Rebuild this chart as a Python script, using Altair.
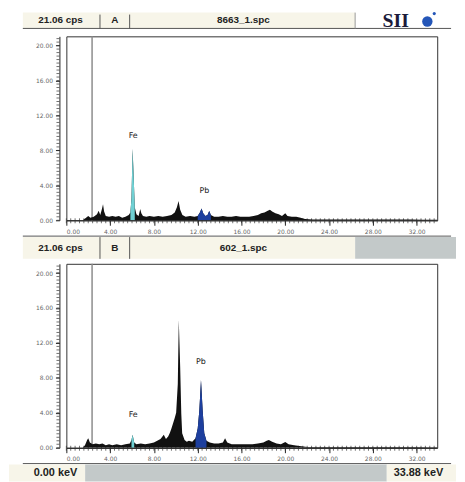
import altair as alt
import pandas as pd

E_MAX = 33.88
CPS_MAX = 21.06
CURSOR_KEV = 2.35

# Panel A : 8663_1.spc
A_E = [0.0, 1.5, 1.8, 2.0, 2.2, 2.5, 2.8, 2.95, 3.1, 3.25,
       3.35, 3.45, 3.6, 3.9, 4.2, 4.5, 4.8, 5.1, 5.4, 5.7,
       5.85, 5.95, 6.05, 6.15, 6.25, 6.4, 6.6, 6.75, 6.85, 7.0,
       7.3, 7.6, 8.0, 8.4, 8.8, 9.2, 9.6, 9.9, 10.1, 10.25,
       10.4, 10.6, 10.9, 11.3, 11.7, 12.0, 12.2, 12.35, 12.5, 12.7,
       12.9, 13.05, 13.2, 13.5, 13.9, 14.3, 14.7, 15.1, 15.5, 15.9,
       16.3, 16.7, 17.1, 17.5, 17.8, 18.1, 18.4, 18.6, 18.8, 19.1,
       19.4, 19.7, 20.0, 20.2, 20.6, 21.0, 21.4, 21.8, 22.5, 23.5,
       24.5, 25.5, 26.5, 27.5, 28.5, 29.5, 30.5, 31.5, 32.5, 33.88]
A_CPS = [0.0, 0.0, 0.3, 0.5, 0.3, 0.4, 0.7, 1.1, 0.6, 1.3,
         1.85, 1.0, 0.5, 0.4, 0.5, 0.4, 0.5, 0.3, 0.4, 0.6,
         0.9, 2.5, 8.2, 5.0, 1.5, 0.7, 0.5, 1.3, 0.8, 0.5,
         0.4, 0.5, 0.4, 0.5, 0.4, 0.5, 0.6, 0.9, 1.5, 2.2,
         1.2, 0.6, 0.4, 0.5, 0.4, 0.5, 0.9, 1.35, 0.8, 0.5,
         0.6, 1.05, 0.6, 0.4, 0.4, 0.5, 0.4, 0.4, 0.5, 0.4,
         0.4, 0.4, 0.5, 0.6, 0.8, 0.9, 1.1, 1.2, 1.0, 0.8,
         0.7, 0.5, 0.8, 0.5, 0.4, 0.4, 0.3, 0.15, 0.1, 0.1,
         0.08, 0.1, 0.08, 0.1, 0.08, 0.1, 0.08, 0.08, 0.05, 0.05]
A_FE_ROI = [5.85, 6.25]
A_PB_ROI = [12.0, 13.2]
A_LABELS = {"E": [6.1, 12.6], "cps": [9.7, 3.3], "t": ["Fe", "Pb"]}

# Panel B : 602_1.spc
B_E = [0.0, 1.5, 1.7, 1.9, 2.0, 2.15, 2.4, 2.7, 3.0, 3.3,
       3.6, 3.9, 4.2, 4.6, 5.0, 5.4, 5.8, 5.95, 6.05, 6.2,
       6.4, 6.8, 7.2, 7.6, 8.0, 8.3, 8.6, 8.9, 9.1, 9.3,
       9.45, 9.6, 9.75, 9.9, 10.03, 10.18, 10.27, 10.4, 10.5, 10.58,
       10.8, 11.0, 11.2, 11.5, 11.8, 12.0, 12.15, 12.3, 12.45, 12.6,
       12.8, 13.1, 13.5, 13.9, 14.3, 14.5, 14.7, 15.1, 15.5, 16.0,
       16.5, 17.0, 17.5, 18.0, 18.3, 18.5, 18.8, 19.2, 19.6, 20.0,
       20.3, 20.8, 21.3, 22.0, 23.0, 24.0, 25.0, 26.0, 27.0, 28.0,
       29.0, 30.0, 31.0, 32.0, 33.0, 33.88]
B_CPS = [0.0, 0.0, 0.3, 0.9, 1.1, 0.6, 0.4, 0.5, 0.4, 0.5,
         0.3, 0.4, 0.3, 0.4, 0.3, 0.4, 0.5, 0.9, 1.5, 0.6,
         0.4, 0.5, 0.4, 0.5, 0.6, 0.8, 1.0, 1.5, 1.0, 1.3,
         1.7, 2.2, 2.8, 3.4, 4.0, 7.3, 14.65, 9.2, 3.9, 1.65,
         0.9, 0.7, 0.8, 0.7, 1.1, 2.2, 4.3, 7.75, 4.3, 1.65,
         0.8, 0.6, 0.5, 0.5, 0.6, 1.1, 0.6, 0.4, 0.4, 0.4,
         0.4, 0.4, 0.5, 0.6, 0.8, 0.9, 0.7, 0.5, 0.4, 0.65,
         0.4, 0.3, 0.2, 0.1, 0.08, 0.1, 0.08, 0.1, 0.08, 0.1,
         0.08, 0.08, 0.1, 0.08, 0.05, 0.05]
B_FE_ROI = [5.95, 6.2]
B_PB_ROI = [11.8, 12.8]
B_LABELS = {"E": [6.1, 12.3], "cps": [3.7, 9.8], "t": ["Fe", "Pb"]}

X_TICKS = [0, 4, 8, 12, 16, 20, 24, 28, 32]
Y_TICKS = [0, 4, 8, 12, 16, 20]
X_MINOR = [round(0.4 * i, 2) for i in range(85)]
Y_MINOR = [round(0.4 * i, 2) for i in range(53)]

HEADER_A = ["21.06 cps", "A", "8663_1.spc"]
HEADER_B = ["21.06 cps", "B", "602_1.spc"]
FOOTER = ["0.00 keV", "33.88 keV"]

CREAM = "#f7f5e9"
GRAYBAR = "#c3c9c9"
CYAN = "#6fd0d3"
BLUE = "#1d3f9e"
W, H = 375, 186
OX = 66
ONE = alt.Data(values=[{"k": 0}])
HFONT = "Liberation Sans"

xscale = alt.Scale(domain=[0, E_MAX], nice=False, zero=False)
yscale = alt.Scale(domain=[0, CPS_MAX], nice=False)
xaxis = alt.Axis(values=X_TICKS, format=".2f", title=None, grid=False,
                 labelFontSize=6, labelColor="#666", labelFont="DejaVu Sans",
                 tickSize=5, tickColor="#222", domainColor="#222", labelPadding=3)
yaxis = alt.Axis(values=Y_TICKS, format=".2f", title=None, grid=False, offset=7,
                 labelFontSize=6, labelColor="#666", labelFont="DejaVu Sans",
                 tickSize=4, tickColor="#222", domainColor="#222", labelPadding=3)
X = alt.X("E:Q", scale=xscale, axis=xaxis)
Y = alt.Y("cps:Q", scale=yscale, axis=yaxis)


def rect(x1, x2, y1, y2, fill, oy):
    return alt.Chart(ONE).mark_rect(fill=fill).encode(
        x=alt.value(x1 - OX), x2=alt.value(x2 - OX),
        y=alt.value(y1 - oy), y2=alt.value(y2 - oy))


def hline(x1, x2, y, oy, color="#555", w=1):
    return alt.Chart(ONE).mark_rule(color=color, strokeWidth=w).encode(
        x=alt.value(x1 - OX), x2=alt.value(x2 - OX),
        y=alt.value(y - oy))


def vline(x, y1, y2, oy, color="#555", w=1):
    return alt.Chart(ONE).mark_rule(color=color, strokeWidth=w).encode(
        x=alt.value(x - OX), y=alt.value(y1 - oy), y2=alt.value(y2 - oy))


def text(s, x, y, oy, size=10, font=HFONT, weight="bold", color="#222"):
    return alt.Chart(ONE).mark_text(fontSize=size, font=font, fontWeight=weight,
                                    color=color, align="center", baseline="middle").encode(
        x=alt.value(x - OX), y=alt.value(y - oy), text=alt.value(s))


def spectrum_layers(E, C, fe_roi, pb_roi, labels):
    df = pd.DataFrame({"E": E, "cps": C})
    fe = df[(df.E >= fe_roi[0]) & (df.E <= fe_roi[1])]
    pb = df[(df.E >= pb_roi[0]) & (df.E <= pb_roi[1])]
    layers = [
        alt.Chart(pd.DataFrame({"E": X_MINOR})).mark_rule(color="#333", strokeWidth=0.7).encode(
            x=X, y=alt.value(H - 2), y2=alt.value(H + 3)),
        alt.Chart(pd.DataFrame({"cps": Y_MINOR})).mark_rule(color="#333", strokeWidth=0.7).encode(
            y=Y, x=alt.value(-10), x2=alt.value(-7)),
        alt.Chart(pd.DataFrame({"E": [CURSOR_KEV]})).mark_rule(color="#8c8c8c", strokeWidth=1.5).encode(x=X),
        alt.Chart(df).mark_area(color="#111", clip=True).encode(x=X, y=Y),
        alt.Chart(fe).mark_area(color=CYAN, clip=True).encode(x=X, y=Y),
        alt.Chart(pb).mark_area(color=BLUE, clip=True).encode(x=X, y=Y),
        alt.Chart(pd.DataFrame(labels)).mark_text(fontSize=8, font="DejaVu Sans", color="#222").encode(
            x=X, y=Y, text="t:N"),
    ]
    return layers


# ---- Panel A
oyA = 32
decoA = [
    rect(22, 358, 8, 24, CREAM, oyA),
    hline(22, 455, 24, oyA),
    vline(100, 10, 24, oyA), vline(130, 10, 24, oyA), vline(358, 8, 24, oyA, color="#999"),
    text(HEADER_A[0], 60, 16, oyA),
    text(HEADER_A[1], 115, 16, oyA),
    text(HEADER_A[2], 245, 16, oyA),
    text("SII", 399, 17, oyA, size=20, font="Liberation Serif", color="#1b1b3a"),
    alt.Chart(ONE).mark_point(filled=True, size=110, color="#2456b8", opacity=1).encode(
        x=alt.value(431 - OX), y=alt.value(17 - oyA)),
    alt.Chart(ONE).mark_point(filled=True, size=10, color="#2456b8", opacity=1).encode(
        x=alt.value(438 - OX), y=alt.value(9 - oyA)),
]
panelA = alt.layer(*decoA, *spectrum_layers(A_E, A_CPS, A_FE_ROI, A_PB_ROI, A_LABELS)).properties(
    width=W, height=H)

# ---- Panel B
oyB = 262
decoB = [
    hline(22, 455, 234, oyB),
    rect(22, 358, 235, 257, CREAM, oyB),
    rect(358, 460, 235, 257, GRAYBAR, oyB),
    vline(100, 235, 257, oyB), vline(130, 235, 257, oyB),
    text(HEADER_B[0], 60, 246, oyB),
    text(HEADER_B[1], 115, 246, oyB),
    text(HEADER_B[2], 245, 246, oyB),
    # footer
    hline(22, 455, 464, oyB),
    rect(8, 85, 465, 482, CREAM, oyB),
    rect(85, 390, 465, 482, GRAYBAR, oyB),
    rect(390, 460, 465, 482, CREAM, oyB),
    text(FOOTER[0], 55, 474, oyB, size=11),
    text(FOOTER[1], 422, 474, oyB, size=11),
]
panelB = alt.layer(*decoB, *spectrum_layers(B_E, B_CPS, B_FE_ROI, B_PB_ROI, B_LABELS)).properties(
    width=W, height=H)

chart = alt.vconcat(panelA, panelB, spacing=44, bounds="flush").properties(
    padding=0, background="white"
).configure_view(stroke="#333", strokeWidth=1)

chart.save("out.html", embed_options={"renderer": "svg", "actions": False})
